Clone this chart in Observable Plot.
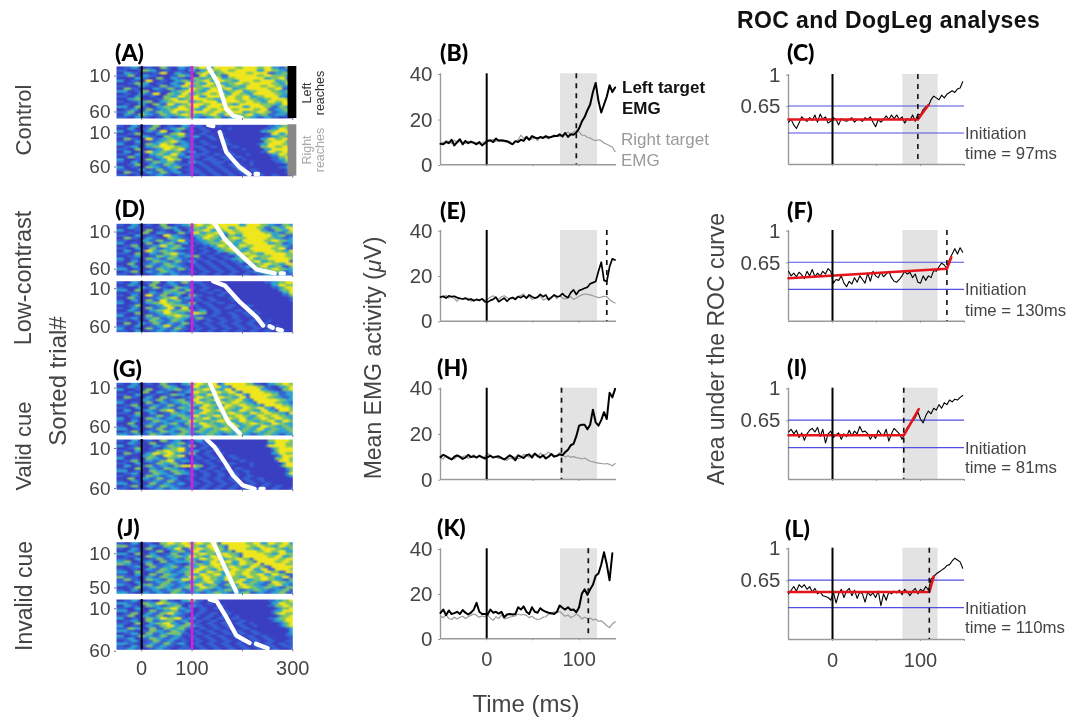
<!DOCTYPE html>
<html><head><meta charset="utf-8">
<style>
html,body{margin:0;padding:0;background:#fff}
#chart{position:relative;width:1070px;height:717px;overflow:hidden;font-family:"Liberation Sans",Arial,sans-serif;color:#444;filter:blur(0.4px)}
#chart svg{position:absolute;overflow:visible;background:transparent}
.t{position:absolute;white-space:nowrap;line-height:1}
</style>
<script src="https://cdn.jsdelivr.net/npm/d3@7"></script>
<script src="https://cdn.jsdelivr.net/npm/@observablehq/plot@0.6"></script>
</head><body><div id="chart"></div>
<script>
// ---- raster trial images, one string per coarse row; digits index the parula-like ramp
const rampValues=[0,1,2,3,4];
const rampColors=["#3a3ec0","#3563d4","#2ea3d0","#7cc46a","#f0e61e"];
const rasterATop=["0011220011003310022113344224444443344443344221133","1100013322001100110220224433443344444422443322113","0022110000114400221100334422334444443344441122334","1133002211000011332200442233114444444433443333221","0000221100330022110033223344223344444444223344112","2200110044001100223322334422443322444433444422331","0011332200110022114433224433223344334444443322441","1100002211003311224422334433442233224444334433221","0033110000221133112244332244334422334444443344112","2200113300110022334433224444223344223344443322334","0011002211440033224422334433442244332244444433221","1100220011003322443344224444334433442233444422113","0022330000113344223344443322444433443322334444331","1100112233002233444422334444224444334433224433442","0011002200331144223344443344443322444444333322441","2200331100223322443344224444334444224444331133222","0011220033112233444433224433444433444433441122331","1133002211332244223344443344334444223344331122331","0022113322113322334433223344224433334422331122211","1100221100112211223322112233112222332211221100112"];
const rasterABot=["1100220011330011002211110000100000000000001122332","0022001133001122331100110000001000000000112244334","2200110022114400220011001100000000000000223344443","0011330000221133441100110000100000000000014422444","1100002211003322331122001100000000000000112233211","0033110044112233220011000011001000000000224433441","1100220011223344221100110000110000000000334444223","2200011033224433112211001100001100000001224444334","0011220022334444332211110011000011000000334433444","1100330011224433441100110000110000100000224444443","0022001144223322331122001100001100000000114433444","1100220022332244220011110011001100010000012244334","0033110011224433112211001100110011000000001133443","2200011033112244330011001111001100010000000112243","1100220011332233110022110011110011000100000011233","0011330022113322111100110011001111001000000000122","2200110033221122330011001100110011110000000001122","1100022011331122001111001100110011001100000000112","0033110022113311220011110011001100110011000000011","1100110011221100111100110011001100110011001100011"];
const rasterDTop=["1100220011003300112233443344444444224444332211332","0022110000113322001133224433442244444433113322441","2200011033001100220022334422334433444444221133224","0011003300221100331144223344224433444444332211333","1100220011004422110022334433113322444444442233114","0033110022110033221100224433223344334444443322112","1100002211331122441111223322443322444444334433221","2200110033002233112200112233334422334444442233112","0011330011224422330011001122443322443344444433221","1100220033112233221100110022334433224444443344112","0022001144223322110011001100223344223344444433224","1100330022113344221100110011002233443322444444332","0011220011332233112233001100110022334433334444331","2200110033221133221100110011001122334422334444443","1100220011332211331122001100110011223344223344441","0033001122113322110011001100110011002233443322442","1100220033112233221100110011001100112233442233113","2200110011332211331100110011001100110022334433221","0011330022113322110011001100110011001122332233112","1100110011221122111100110011001100110011221122111"];
const rasterDBot=["1100220011330022113311110000000000000000011223344","0022110033001122001100110000000000000000002244334","1100002211331100332211001100000000000000000112344","2200330011002233113300110011000000000000000023344","0011110022113322331100001100110000000000000002244","1100220044113311220033110000110000000000000000113","0033110011223344112211001100001100000000000000013","1100220033114422331100110011000011000000000000001","2200011022334433221133001100110000100000000000000","0011330011224433332211001100001100011000000000000","1100220033112244114400110011001100001000000000000","0022110022334422333311220011000011000100000000000","1100330011224433221144330011001100110010000000000","2200011033112233443322110011000011001100000000000","0011220022331122332211331100110011000011000000000","1100110033221133220011001100110011001100010000000","0033002211331122113311001100110011001100110000000","1100220011224411220011001100110011001100110100000","2200110033112211331100110011001100110011001100000","1100220011221122110011001100110011001100110011000"];
const rasterGTop=["1100220011003311002233443344124444443311002233443","0022110000113322001144223344221444444433110022344","2200011033001122331122334433224414444444221100334","0011003300221100112244332244334421444444332211224","1100220011001133220033224433223344214444443311223","0033110022003311001122443322443322441444443322112","1100002211331122331144223344223344221444444433221","2200110033002211223322443322443344332214444433221","0011330011221133112233224433224433443322144444332","1100220033112211332211443322443322443344221444433","0022001122113344112233224433443322443322442214443","1100330022001133221122443322334433224433443322144","0011220011331122332244223344223344332244334433221","2200110033221122113322334422334433442233443344332","1100220011332211222244332233443322443322334422443","0033001122112233113322443322334422334433224433222","1100220033113311221133224433223344223322443322332","2200110011331122332211332233443322332244223322333","0011330022113322113322332233223322332233223322223","2211221133221122332211223322112233221122332211223"];
const rasterGBot=["1100220011003311220011220000000000000000003344443","0022110033001122331100110000000000000000022444334","2200110000221133221133001100000000000000014444433","0011330011002233441100110011000000000000002344444","1100220011334433441122001100000000000000001344443","0033110022443344221133001100110000000000000224433","1100002233114433440011001100001100000000000124444","2200110033221133221100110011000011000000000033443","0011330022113344112211001100110000110000000014443","1100220011332233110011001100001100001000000002444","0022001133112211334444330011001100000100000001344","1100330022113322110022001100110011000000000000234","2200110033221133221100110011001100110000000000133","0011220011332211332211001100110011001000000000024","1100110033221122110011001100110011001100000000012","0033002211331122001100110011001100110011000000001","1100220011221133110011001100110011001100100000000","2200110033112211220011001100110011001100110000000","0011330022113322110011001100110011001100110011000","1100110011221122111100110011001100110011001100011"];
const rasterJTop=["1100220011003344334433443344144444443344224433442","3311000022113322334433224433214444443344332244334","1100220033001122441133443344331444443322444433223","0022110011330022331144223344223144444433443344224","2200330022001133112233443322443321444444332244334","0011110033221122332244332244334433144444443344223","1100220011331122113322443344223344331444444433442","2233001122003311222233112244334422443314444433443","3322110033111122110022332244443322443344144444433","0011220033112233113322443344224433224433114444443","1100110022113322112233443322443344334422441144443","2200330011332211223344224433224433443322443311444","1100220033113322113322443344224433443344224433114","3311110022113322112244334433224433224433443322441","1133110033221133224433224433224433442233443322113","1100220011223311221122334422113344223322114433222","2211002233113322112233442233113322443322113344221","0011331122332211223322443322112233443322332211332","1100220011221122331122332211223322112233221122331","2211002211221133221122112233221122331122112233112"];
const rasterJBot=["0011220011003311002233110000100000000000001122334","2211003322443322110011001100000000000000002244334","0022110033221122330022110000110000000000001133443","1100220011223344221100110011000000000000000123344","2200110033112233112200110000110000000000001224443","0011330022113344221100110011001100000000000134433","1133002211331122110011001100110010000000000023344","2200110033224433441122001100110011000000001123344","0011220033112233112200110011001100110000000122344","1100330022334422113311001100110011001000000012344","2200110022113344223322110011001100110010000001234","1133220033113322331100110011001100110000000000123","2211001133221133220011001100110011001100000000023","0011220033112233331100110011001100110011000000012","2200113322113311220011001100110011001100110000011","1122001133221122110011001100110011001100110000011","0011220011331122001100110011001100110011001100011","2211001122113311220011001100110011001100110011011","1100220033112211001100110011001100110011001100111","1122110011221100111100110011001100110011001100011"];
// rows are staggered by a column so the coarse cells do not line up in vertical bars
const rowStagger=[0,1,0,1,1,0,1,0,0,1,0,1,1,0,0,1,0,1,0,1];
// ---- reach-onset curves [time ms, trial]; null breaks the line
const curveATop=[[132,-1],[152,23],[168,57.7],[181,67],[198,70.2]];
const curveABot=[[132,0.1],[142,2],[null,null],[155,10.9],[168,40.3],[194,62.4],[214,73.1],[null,null],[226,72.6],[231,72.6]];
const curveDTop=[[145,0.9],[165,21.3],[195,41.8],[228,62.2],[264,67.7],[null,null],[276,67.7],[282,67.7]];
const curveDBot=[[142,2.2],[165,7.9],[195,29.6],[228,49.1],[241,60],[null,null],[254,61],[260,63],[null,null],[270,65],[278,66.4]];
const curveGTop=[[135.5,3.1],[152,27.9],[172,53.5],[195,68.1]];
const curveGBot=[[129,5],[145,14.6],[165,33.3],[181.6,50],[201,62.5],[224,66.7],[null,null],[236,66.7],[242,66.7]];
const curveJTop=[[142,-1.7],[168,31.4],[188,56.6]];
const curveJBot=[[135,0.9],[149,3.2],[168,21.7],[188,43.2],[214,51.9],[null,null],[227,53],[250,58.2]];
// ---- EMG activity, sampled every 3 ms from -50 ms
const emgBLeft=[9.2,9,10,9.5,11,8.5,10,11.2,9,10.5,9.5,10.2,9.6,9,10,8.5,9.5,10.5,10.8,10,11.5,10.6,10.8,10.6,10.4,9.6,9,10.4,10,11,10.5,12.2,11,12.6,12,11.6,12.2,11.8,12.6,12,12.2,12.8,12.6,13.4,12.4,14,12.2,13.4,13.2,14.2,16,19,21,24,26.5,32,36,28,23,26.5,30,35,32,34];
const emgBRight=[10,9.6,10.6,10.2,9.4,10.8,9.6,10.4,9.8,9.4,10.4,9.6,10,9.8,9.2,9.6,10.2,11,10.4,11.2,10.2,11,10.4,10.2,9.8,10.4,9.2,10,11,13,11.6,12.6,11,11.4,12,10.6,12.4,11.8,12,11.4,12.6,12.2,13,12.4,13.2,13.6,14.4,13.2,14.4,15,14.6,13,13,12,11.8,11,10.6,11,10.6,9.6,9,8.4,7.8,5.8];
const emgELeft=[10.6,11,10.2,11.2,10.8,11,10.4,10,9.8,10.2,9.4,9.8,9,9.6,9.2,9.8,8.6,8.4,9.2,9.6,10.6,8.6,9.4,10.2,8.8,10,10.4,9.6,10.8,10.4,11.2,10.2,11.6,10.8,10.2,10.6,11.8,10.8,11.6,9.4,10.4,11.6,10.8,11,12.2,11,10.4,12.6,13.8,11.8,13.5,14,14.5,15,16.5,17,17.5,22,26,18,17.5,24,27.5,27];
const emgERight=[11,10.6,11.4,10.2,10.8,10,8.8,10.4,9.6,9.8,10.2,8.8,9.4,9.6,9,10,9.2,9.8,10.6,11.2,10.2,9.6,10.8,11.2,10.4,9.8,10.6,10.2,11,11.4,12,10.4,11,9.6,10.2,10.4,11,9.4,9.8,10.2,10.8,11.2,10,11.4,10.2,9.8,10.4,10.8,9.6,10.2,11,11.6,12,11.8,11.6,11.2,10.8,10.4,10.6,11,10.8,9.6,8.6,8];
const emgHLeft=[9.8,10.8,10.2,9.4,8.8,10,10.6,10,9,9.6,10.8,9.8,10.2,9.6,10.4,9.8,9.2,9.8,10.4,9.6,10,10.2,9.4,8.8,9.6,10.6,9.8,8.4,10.6,10,9.4,10.6,11,9.6,11.4,10.4,9.6,10.6,9.2,10,11.2,10,10.4,11,10.6,12,13,15,15.6,19,23.6,24,24,22,24,30.6,25,23.6,26,29.5,26.5,38,36,39.7];
const emgHRight=[9.6,9,10.4,9.8,9.2,9,10.2,9.6,10,10.4,9.2,10,10.8,9.6,10.4,9.4,10,11.4,10.6,9.6,10,9.2,9.8,8.8,8.4,9.4,9,10,9,9.6,11,10.4,9.8,10.6,11,9.8,11.6,10.4,11,12,11,10.6,10.2,11.8,11,9.8,10.4,9.8,10,9.6,9.4,9,9.4,8.6,8,7.8,7.4,7.2,7,6.8,7,6.6,6,7];
const emgKLeft=[11.5,13,10.5,12.6,11,11.4,12,11,12.8,11.6,10.8,11.6,13,16,12,11,11,10.8,13,11.6,12,11.2,12,9.6,10.8,11,10.8,11,14,13,14.4,12,11,14,12,11.6,13.6,12.6,12,11.6,11.4,11,12,14.8,13.8,13,14,12.8,13,11.8,14,20,22,19.5,22,24,28,29,33,38.5,33,26,38];
const emgKRight=[10,9.4,10.8,9,8.6,9.6,8.8,9.6,10,9,9.8,10.4,11,10.4,9.6,10.2,9.8,10.6,9.2,8.2,9.8,9,10.6,8.8,9.2,9.6,10,10.2,11,10.6,10.8,10.4,9.4,10,9,8.6,8.8,9.6,9.8,11,11,12,11.6,12.2,11,10,10.6,9.4,10,11,10.2,8.8,9.6,9,9.2,8.4,8.8,7.8,8,7,5.8,5,6.6,7.6];
// ---- area under the ROC curve, sampled every 3 ms from -50 ms
const rocC=[.47,.5,.44,.4,.46,.53,.5,.48,.52,.49,.55,.47,.56,.5,.53,.46,.48,.52,.5,.44,.51,.49,.48,.5,.52,.47,.5,.5,.48,.52,.5,.53,.47,.42,.5,.47,.5,.54,.5,.55,.51,.55,.5,.53,.46,.51,.49,.55,.48,.56,.55,.61,.64,.65,.72,.76,.74,.72,.77,.74,.78,.8,.82,.8,.84,.85,.92];
const rocF=[.55,.5,.53,.49,.54,.51,.47,.55,.5,.57,.49,.53,.5,.55,.52,.58,.55,.42,.46,.45,.5,.42,.38,.44,.41,.48,.43,.5,.46,.42,.53,.44,.55,.5,.48,.54,.49,.52,.55,.48,.44,.43,.46,.5,.55,.52,.54,.48,.52,.43,.42,.5,.45,.5,.48,.56,.55,.6,.64,.62,.58,.68,.74,.8,.74,.81,.76];
const rocI=[.52,.55,.5,.54,.46,.51,.43,.5,.54,.56,.52,.57,.47,.55,.4,.5,.53,.46,.49,.51,.44,.5,.47,.54,.48,.53,.5,.58,.52,.53,.5,.44,.49,.45,.54,.5,.48,.55,.42,.5,.56,.53,.5,.44,.5,.57,.6,.64,.68,.74,.66,.62,.7,.75,.72,.78,.76,.82,.78,.84,.82,.87,.85,.88,.87,.9,.92];
const rocL=[.5,.54,.58,.53,.6,.57,.6,.55,.58,.52,.56,.5,.52,.48,.47,.46,.43,.52,.4,.5,.55,.46,.53,.56,.48,.54,.45,.52,.5,.41,.52,.48,.51,.46,.53,.37,.5,.43,.52,.5,.53,.51,.54,.49,.55,.52,.48,.53,.56,.5,.55,.53,.58,.54,.66,.69,.72,.74,.76,.78,.81,.82,.86,.89,.87,.85,.78];
// ---- dog-leg fits [time ms, AUC]
const fitC=[[-50,.5],[97,.5],[109,.66]];
const fitF=[[-50,.474],[130,.578],[135,.706]];
const fitI=[[-50,.484],[81,.484],[98,.77]];
const fitL=[[-50,.52],[110,.52],[115,.69]];

const rasterCols=49, rasterDomain=[-50,300];
const tones={ink:"#444",axis:"#9a9a9a",band:"#e3e3e3",magenta:"#e31bd6",blue:"#4f50e0",red:"#e5141c",grey:"#9b9b9b"};
const root=document.getElementById("chart");

function panel(box,xd,yd,rev,marks){
  const ml=70,mr=70,mt=12,mb=45;
  const left=Math.floor(box[0])-ml, top=Math.floor(box[1])-mt;
  const p=Plot.plot({
    width:Math.ceil(box[2])+mr-left, height:Math.ceil(box[3])+mb-top,
    marginLeft:box[0]-left, marginRight:Math.ceil(box[2])+mr-box[2],
    marginTop:box[1]-top, marginBottom:Math.ceil(box[3])+mb-box[3],
    x:{domain:xd,axis:null}, y:{domain:yd,reverse:rev,axis:null},
    color:{type:"linear",domain:rampValues,range:rampColors},
    style:{background:"transparent",overflow:"visible",fontFamily:"'Liberation Sans',Arial,sans-serif"},
    marks
  });
  p.style.left=left+"px"; p.style.top=top+"px";
  root.appendChild(p);
}
function text(html,x,y,o={}){
  const d=document.createElement("div"); d.className="t"; d.innerHTML=html;
  d.style.left=x+"px"; d.style.top=y+"px";
  d.style.fontSize=(o.size||15)+"px"; d.style.color=o.color||tones.ink;
  if(o.weight) d.style.fontWeight=o.weight;
  if(o.family) d.style.fontFamily=o.family;
  if(o.spacing) d.style.letterSpacing=o.spacing+"px";
  d.style.transform=(o.rotate?"translate(-50%,-50%) rotate(-90deg)":"translate("+(o.center?"-50%":"0")+",-50%)");
  root.appendChild(d);
}
function rasterPanel(rows,curve,box,yd,ticks,xLabels,block,labelShift=1.5){
  const cells=rows.flatMap((r,i)=>Array.from((r[0].repeat(rowStagger[i])+r).padEnd(rasterCols,"1").slice(0,rasterCols),Number));
  const marks=[
    Plot.raster(cells,{width:rasterCols,height:rows.length,x1:rasterDomain[0],x2:rasterDomain[1],y1:yd[0],y2:yd[1],fill:d=>d}),
    Plot.ruleX([0],{stroke:"#000",strokeWidth:2}),
    Plot.ruleX([100],{stroke:tones.magenta,strokeWidth:2.4}),
    Plot.line(curve,{x:d=>d[0],y:d=>d[1],stroke:"#fff",strokeWidth:4.4,strokeLinejoin:"round",strokeLinecap:"round"}),
    Plot.axisY(ticks,{anchor:"left",tickSize:2,tickPadding:4,stroke:"#777",fontSize:19,fill:tones.ink,tickFormat:String,label:null,dy:labelShift}),
    Plot.axisX([0,100,200,300],{anchor:"bottom",tickSize:2,tickPadding:9,stroke:"#777",fontSize:20,fill:tones.ink,label:null,
      tickFormat:d=>xLabels&&d!==200?String(d):""})
  ];
  if(block) marks.splice(1,0,Plot.rect([block],{x1:()=>290.5,x2:()=>308,y1:()=>yd[0],y2:()=>yd[1],fill:d=>d}));
  panel(box,rasterDomain,yd,true,marks);
}
const seriesX=(d,i)=>-50+3*i;
function commonBase(xd,yd,dash,xLabels,ticks,fmt){
  return [
    Plot.rect([[80,120]],{x1:d=>d[0],x2:d=>d[1],y1:()=>yd[0],y2:()=>yd[1],fill:tones.band}),
    Plot.ruleX([xd[0]],{stroke:tones.axis,strokeWidth:1.4}),
    Plot.ruleY([yd[0]],{stroke:tones.axis,strokeWidth:1.4}),
    Plot.axisY(ticks,{anchor:"left",tickSize:2,tickPadding:6,stroke:tones.axis,fontSize:20.5,fill:tones.ink,tickFormat:fmt,label:null,dy:0.7}),
    Plot.axisX(xd[1]>145?[0,50,100,150]:[0,50,100],{anchor:"bottom",tickSize:2,tickPadding:11,stroke:tones.axis,fontSize:20,fill:tones.ink,label:null,
      tickFormat:d=>xLabels&&d!==50&&d!==150?String(d):""})
  ];
}
function emgPanel(left,right,box,dash,xLabels,w){
  const xd=[-50,140.5],yd=[0,40];
  panel(box,xd,yd,false,[
    ...commonBase(xd,yd,dash,xLabels,[0,20,40],String),
    Plot.line(right,{x:seriesX,y:d=>d,stroke:tones.grey,strokeWidth:1.2}),
    Plot.line(left,{x:seriesX,y:d=>d,stroke:"#000",strokeWidth:w}),
    Plot.ruleX([0],{stroke:"#000",strokeWidth:2}),
    Plot.ruleX([dash],{stroke:"#111",strokeWidth:1.7,strokeDasharray:"5,5"})
  ]);
}
function rocPanel(series,fit,box,dash,xLabels){
  const xd=[-50,150],yd=[0,1];
  panel(box,xd,yd,false,[
    ...commonBase(xd,yd,dash,xLabels,[0.65,1],String),
    Plot.ruleY([0.65,0.35],{stroke:tones.blue,strokeWidth:1.2}),
    Plot.line(series,{x:seriesX,y:d=>d,stroke:"#000",strokeWidth:1.1}),
    Plot.line(fit,{x:d=>d[0],y:d=>d[1],stroke:tones.red,strokeWidth:2.6}),
    Plot.ruleX([0],{stroke:"#000",strokeWidth:2}),
    Plot.ruleX([dash],{stroke:"#111",strokeWidth:1.6,strokeDasharray:"5,5"})
  ]);
}

rasterPanel(rasterATop,curveATop,[116,66,292.3,118],[-1.1,71.1],[10,60],false,"#000");
rasterPanel(rasterABot,curveABot,[116,124.3,292.3,175.7],[0.1,75.8],[10,60],false,"#888");
rasterPanel(rasterDTop,curveDTop,[116,223.3,292.3,275],[0.9,70.5],[10,60]);
rasterPanel(rasterDBot,curveDBot,[116,280.7,292.3,331.7],[2.2,68.7],[10,60]);
rasterPanel(rasterGTop,curveGTop,[116,382.3,292.3,435],[3.1,70.6],[10,60],false,null,0);
rasterPanel(rasterGBot,curveGBot,[116,439,292.3,489.3],[5,67.9],[10,60],false,null,5);
rasterPanel(rasterJTop,curveJTop,[116,541.7,292.3,593.3],[-1.7,58.5],[10,50]);
rasterPanel(rasterJBot,curveJBot,[116,599,292.3,649.3],[0.9,60],[10,60],true);

emgPanel(emgBLeft,emgBRight,[440,73.3,616,164.3],97,false,2);
emgPanel(emgELeft,emgERight,[440,230,616,320.7],130,false,1.7);
emgPanel(emgHLeft,emgHRight,[440,387.7,616,479],81,false,2);
emgPanel(emgKLeft,emgKRight,[440,548.3,616,638.3],110,true,2);

rocPanel(rocC,fitC,[788,74,964,164],97,false);
rocPanel(rocF,fitF,[788,230,964,320.7],130,false);
rocPanel(rocI,fitI,[788,387.7,964,479],81,false);
rocPanel(rocL,fitL,[788,547.7,964,639],110,true);

const letterFont="Lato,'Liberation Sans',sans-serif";
[["(A)",115,52],["(D)",115,208],["(G)",113,368],["(J)",117,527],["(B)",440,52],["(E)",440,210],["(H)",437,367],["(K)",437,527],["(C)",787,52],["(F)",787,210],["(I)",787,367],["(L)",785,528]]
  .forEach(([s,x,y])=>text(s,x,y,{size:23,weight:"900",color:"#000",family:letterFont}));
text("ROC and DogLeg analyses",737,20,{size:23,weight:"bold",color:"#111",spacing:0.4});
text("Control",24,120,{size:22,rotate:true});
text("Low-contrast",24,278,{size:23.5,rotate:true});
text("Valid cue",24,446,{size:22,rotate:true});
text("Invalid cue",24,596,{size:23,rotate:true});
text("Sorted trial#",58,381,{size:24,rotate:true});
text("Mean EMG activity (<i>μ</i>V)",373,358,{size:23,rotate:true});
text("Area under the ROC curve",716,349,{size:23,rotate:true});
text("Time (ms)",526,704,{size:24,center:true});
text("Left target",622,87,{size:17,weight:"bold",color:"#111"});
text("EMG",622,108,{size:17,weight:"bold",color:"#111"});
text("Right target",621,139,{size:17,color:"#9a9a9a"});
text("EMG",621,160,{size:17,color:"#9a9a9a"});
text("Left",307,93,{size:12.5,rotate:true,color:"#333"});
text("reaches",320,93,{size:12.5,rotate:true,color:"#333"});
text("Right",307,150,{size:12.5,rotate:true,color:"#aaa"});
text("reaches",320,150,{size:12.5,rotate:true,color:"#aaa"});
[[132.5,154,"97"],[288.7,311,"130"],[447.7,468,"81"],[607.7,628,"110"]].forEach(([a,b,v])=>{
  text("Initiation",965,a,{size:16.5});
  text("time = "+v+"ms",965,b,{size:16.8});
});
</script></body></html>
